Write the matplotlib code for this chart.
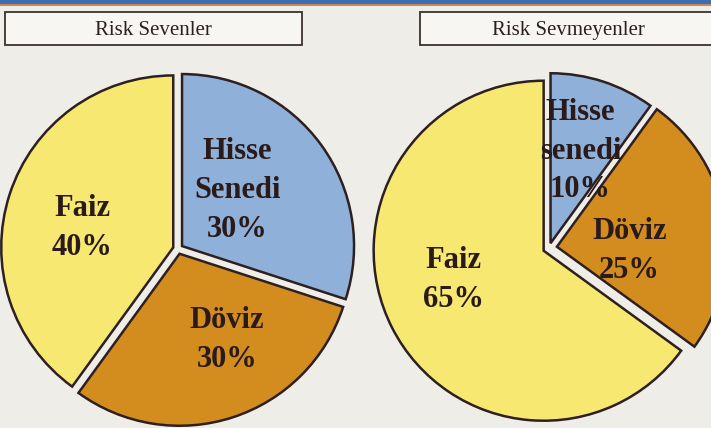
import numpy as np
import matplotlib.pyplot as plt
from matplotlib.patches import Rectangle

# data
titles = ['Risk Sevenler', 'Risk Sevmeyenler']
left_labels = ['Hisse\nSenedi', 'Döviz', 'Faiz']
left_vals = [30, 30, 40]
right_labels = ['Hisse\nsenedi', 'Döviz', 'Faiz']
right_vals = [10, 25, 65]
colors = ['#8fb0d8', '#d38d1e', '#f7e872']

W, H = 711, 428
fig = plt.figure(figsize=(W / 100, H / 100), dpi=100)
fig.patch.set_facecolor('#efede8')
ax = fig.add_axes([0, 0, 1, 1])
ax.set_facecolor('#efede8')

serif = ['Liberation Serif', 'DejaVu Serif']
edge = '#2e2020'

def draw_pie(vals, labels, center, radius, explode, nudges):
    txt = [f'{l}\n{v}%' for l, v in zip(labels, vals)]
    wedges, texts = ax.pie(vals, labels=txt, colors=colors, center=center,
                           radius=radius, startangle=90, counterclock=False,
                           explode=explode, labeldistance=0.57,
                           wedgeprops=dict(edgecolor=edge, linewidth=1.8),
                           textprops=dict(family=serif, fontweight='bold',
                                          fontsize=22, color='#2a1a1a',
                                          linespacing=1.45))
    for t, (dx, dy) in zip(texts, nudges):
        x, y = t.get_position()
        t.set_position((x + dx, y + dy))
        t.set_ha('center')
        t.set_va('center')

# explode in pixel units (pie uses absolute offsets)
draw_pie(left_vals, left_labels, (178, H - 249), 172, [5, 5, 5],
         [(-24, -2), (17, 7), (2, -11)])
draw_pie(right_vals, right_labels, (549, H - 248), 170, [5, 8, 6],
         [(0, 0), (-23, -19), (-4, 15)])

# title boxes
for (x0, x1), title, tx in zip([(5, 302), (420, 730)], titles, [153, 568]):
    ax.add_patch(Rectangle((x0, H - 45), x1 - x0, 33, facecolor='#f7f6f3',
                           edgecolor='#3a3030', linewidth=1.3, zorder=5))
    ax.text(tx, H - 30, title, family=serif, fontsize=15, color='#2a2020',
            ha='center', va='center', zorder=6)

# top band
ax.add_patch(Rectangle((0, H - 4), W, 4, facecolor='#3a6db5', edgecolor='none', zorder=5))
ax.add_patch(Rectangle((0, H - 6), W, 2, facecolor='#c98a4a', edgecolor='none', zorder=5))

ax.set_xlim(0, W)
ax.set_ylim(0, H)
ax.set_aspect('auto')
ax.axis('off')

fig.savefig('out.png', dpi=100, facecolor=fig.get_facecolor())
